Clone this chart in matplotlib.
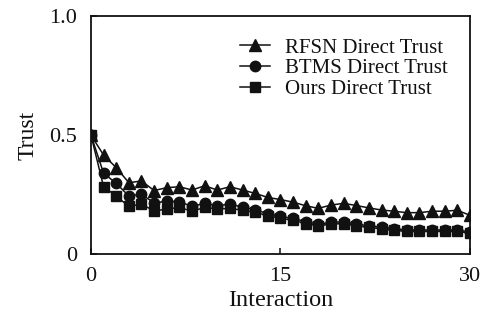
import numpy as np
import matplotlib
matplotlib.use("Agg")
import matplotlib.pyplot as plt
from matplotlib.ticker import FixedLocator, FixedFormatter

plt.rcParams['font.family'] = ['Liberation Serif', 'DejaVu Serif']

# interaction index 0..30
interaction = list(range(31))

rfsn = [0.5, 0.416, 0.363, 0.300, 0.307, 0.267, 0.279, 0.283, 0.269, 0.287,
        0.269, 0.283, 0.269, 0.255, 0.238, 0.229, 0.218, 0.203, 0.192, 0.206,
        0.213, 0.204, 0.194, 0.185, 0.180, 0.174, 0.174, 0.180, 0.180, 0.184,
        0.163]
btms = [0.5, 0.340, 0.297, 0.244, 0.251, 0.215, 0.222, 0.220, 0.200, 0.213,
        0.203, 0.210, 0.197, 0.186, 0.170, 0.158, 0.150, 0.136, 0.126, 0.133,
        0.136, 0.126, 0.119, 0.113, 0.107, 0.101, 0.101, 0.101, 0.101, 0.101,
        0.093]
ours = [0.5, 0.283, 0.244, 0.200, 0.210, 0.181, 0.189, 0.196, 0.180, 0.196,
        0.189, 0.192, 0.184, 0.175, 0.162, 0.150, 0.142, 0.128, 0.119, 0.126,
        0.128, 0.119, 0.112, 0.106, 0.100, 0.095, 0.095, 0.095, 0.095, 0.095,
        0.088]

series_labels = ["RFSN Direct Trust", "BTMS Direct Trust", "Ours Direct Trust"]
xticks = [0, 15, 30]
yticks = [0, 0.5, 1.0]
ytick_labels = ["0", "0.5", "1.0"]

fig = plt.figure(figsize=(4.89, 3.22), dpi=100)
ax = fig.add_axes([0.186, 0.211, 0.775, 0.739])

c = "#111111"
ax.plot(interaction, rfsn, color=c, lw=1.1, marker="^", ms=9, label=series_labels[0])
ax.plot(interaction, btms, color=c, lw=1.1, marker="o", ms=7.5, label=series_labels[1])
ax.plot(interaction, ours, color=c, lw=1.1, marker="s", ms=6.5, label=series_labels[2])

ax.set_xlim(0, 30)
ax.set_ylim(0, 1.0)
ax.xaxis.set_major_locator(FixedLocator(xticks))
ax.yaxis.set_major_locator(FixedLocator(yticks))
ax.yaxis.set_major_formatter(FixedFormatter(ytick_labels))
ax.tick_params(direction="in", length=4, width=1.1, labelsize=16, colors=c)
ax.tick_params(axis="x", pad=9)
ax.tick_params(axis="y", pad=10)
for s in ax.spines.values():
    s.set_linewidth(1.3)
    s.set_color(c)

ax.set_xlabel("Interaction", fontsize=17.5, color=c, labelpad=3)
ax.set_ylabel("Trust", fontsize=17, color=c, labelpad=8)

leg = ax.legend(loc="upper right", bbox_to_anchor=(0.975, 0.96), frameon=False,
                fontsize=15, handlelength=1.4, handletextpad=0.75,
                labelspacing=0.05, borderaxespad=0.2)
for t in leg.get_texts():
    t.set_color(c)

fig.savefig("out.png", dpi=100)
